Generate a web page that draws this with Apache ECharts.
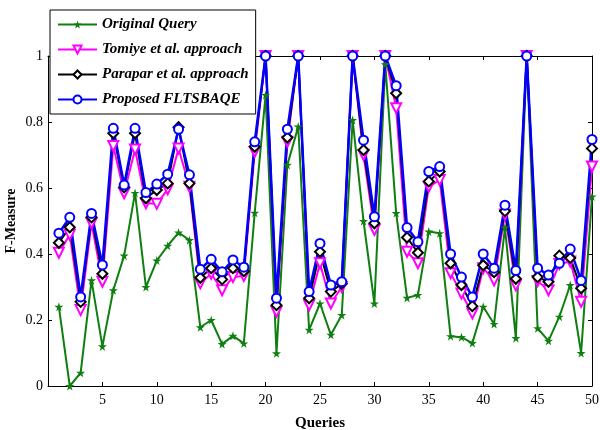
<!DOCTYPE html>
<html>
<head>
<meta charset="utf-8">
<script src="https://cdn.jsdelivr.net/npm/echarts@6/dist/echarts.min.js"></script>
<style>
  html, body { margin: 0; padding: 0; background: #fff; }
  #chart { width: 600px; height: 430px; }
</style>
</head>
<body>
<div id="chart"></div>
<script>
const queries = [1, 2, 3, 4, 5, 6, 7, 8, 9, 10, 11, 12, 13, 14, 15, 16, 17, 18, 19, 20,
  21, 22, 23, 24, 25, 26, 27, 28, 29, 30, 31, 32, 33, 34, 35, 36, 37, 38, 39, 40,
  41, 42, 43, 44, 45, 46, 47, 48, 49, 50];

const originalQuery = [0.24, 0.00, 0.04, 0.32, 0.12, 0.29, 0.395, 0.585, 0.30, 0.38,
  0.425, 0.465, 0.442, 0.178, 0.20, 0.127, 0.152, 0.129, 0.525, 0.882,
  0.099, 0.67, 0.786, 0.17, 0.25, 0.155, 0.215, 0.806, 0.50, 0.25,
  0.975, 0.524, 0.267, 0.276, 0.468, 0.463, 0.151, 0.148, 0.13, 0.24,
  0.188, 0.48, 0.145, 1.0, 0.175, 0.137, 0.21, 0.306, 0.10, 0.574];

const tomiye = [0.404, 0.458, 0.23, 0.493, 0.316, 0.727, 0.584, 0.717, 0.554, 0.552,
  0.596, 0.72, 0.604, 0.311, 0.34, 0.29, 0.33, 0.333, 0.71, 1.0,
  0.225, 0.74, 1.0, 0.245, 0.372, 0.25, 0.30, 1.0, 0.70, 0.473,
  1.0, 0.842, 0.407, 0.372, 0.604, 0.624, 0.342, 0.28, 0.22, 0.357,
  0.32, 0.52, 0.305, 1.0, 0.318, 0.29, 0.37, 0.377, 0.255, 0.665];

const parapar = [0.434, 0.481, 0.255, 0.511, 0.34, 0.766, 0.602, 0.766, 0.569, 0.594,
  0.614, 0.784, 0.614, 0.328, 0.357, 0.323, 0.357, 0.348, 0.725, 1.0,
  0.245, 0.753, 1.0, 0.266, 0.407, 0.286, 0.31, 1.0, 0.715, 0.493,
  1.0, 0.887, 0.45, 0.404, 0.62, 0.65, 0.372, 0.306, 0.242, 0.366,
  0.345, 0.53, 0.325, 1.0, 0.33, 0.316, 0.395, 0.388, 0.296, 0.72];

const proposed = [0.463, 0.511, 0.27, 0.523, 0.367, 0.781, 0.609, 0.781, 0.586, 0.612,
  0.642, 0.778, 0.64, 0.354, 0.384, 0.346, 0.382, 0.36, 0.74, 1.0,
  0.266, 0.778, 1.0, 0.286, 0.432, 0.306, 0.316, 1.0, 0.745, 0.513,
  1.0, 0.91, 0.48, 0.437, 0.65, 0.665, 0.40, 0.33, 0.27, 0.40,
  0.357, 0.548, 0.35, 1.0, 0.357, 0.336, 0.372, 0.415, 0.32, 0.747];

const seriesNames = ['Original Query', 'Tomiye et al. approach', 'Parapar et al. approach', 'Proposed FLTSBAQE'];

const star = 'path://M50,0 L61,35 L98,35 L68,57 L79,91 L50,70 L21,91 L32,57 L2,35 L39,35 Z';
const serif = 'Liberation Serif';

const pairs = (vals) => queries.map((q, i) => [q, vals[i]]);

const chart = echarts.init(document.getElementById('chart'));

// box axes (top/right) only carry inward ticks, like the matlab frame
const frameAxis = {
  axisLine: { show: true, onZero: false, lineStyle: { color: '#000', width: 1 } },
  axisTick: { show: true, inside: true, length: 4, lineStyle: { color: '#000' } },
  axisLabel: { show: false },
  splitLine: { show: false }
};

chart.setOption({
  animation: false,
  backgroundColor: '#fff',
  grid: { left: 48, right: 8, top: 56, bottom: 44, outerBoundsMode: 'none' },
  legend: {
    orient: 'vertical',
    left: 50,
    top: 10,
    width: 205,
    padding: [7, 7, 7, 7],
    itemGap: 10,
    itemWidth: 39,
    itemHeight: 10,
    borderColor: '#000',
    borderWidth: 1,
    backgroundColor: '#fff',
    data: seriesNames,
    textStyle: {
      fontFamily: serif,
      fontStyle: 'italic',
      fontWeight: 'bold',
      fontSize: 15,
      color: '#000'
    }
  },
  xAxis: [
    {
      type: 'value',
      min: 0,
      max: 50,
      interval: 5,
      name: 'Queries',
      nameLocation: 'middle',
      nameGap: 30,
      nameTextStyle: { fontFamily: serif, fontWeight: 'bold', fontSize: 15, color: '#000' },
      axisLine: { show: true, onZero: false, lineStyle: { color: '#000' } },
      axisTick: { show: true, inside: true, length: 4, lineStyle: { color: '#000' } },
      axisLabel: { showMinLabel: false, fontFamily: serif, fontSize: 14, color: '#000', margin: 7 },
      splitLine: { show: false }
    },
    Object.assign({ type: 'value', position: 'top', min: 0, max: 50, interval: 5 }, frameAxis)
  ],
  yAxis: [
    {
      type: 'value',
      min: 0,
      max: 1,
      interval: 0.2,
      name: 'F-Measure',
      nameLocation: 'middle',
      nameGap: 30,
      nameMoveOverlap: false,
      nameTextStyle: { fontFamily: serif, fontWeight: 'bold', fontSize: 14, color: '#000' },
      axisLine: { show: true, onZero: false, lineStyle: { color: '#000' } },
      axisTick: { show: true, inside: true, length: 4, lineStyle: { color: '#000' } },
      axisLabel: { fontFamily: serif, fontSize: 14, color: '#000', margin: 5 },
      splitLine: { show: false }
    },
    Object.assign({ type: 'value', position: 'right', min: 0, max: 1, interval: 0.2 }, frameAxis)
  ],
  series: [
    {
      name: seriesNames[0],
      type: 'line',
      data: pairs(originalQuery),
      symbol: star,
      symbolSize: 9,
      itemStyle: { color: '#0f7f0f' },
      lineStyle: { width: 2, color: '#0f7f0f' }
    },
    {
      name: seriesNames[1],
      type: 'line',
      data: pairs(tomiye),
      symbol: 'emptyTriangle',
      symbolRotate: 180,
      symbolSize: 10,
      itemStyle: { color: '#ff00ff', borderWidth: 1.5 },
      lineStyle: { width: 2, color: '#ff00ff' }
    },
    {
      name: seriesNames[2],
      type: 'line',
      data: pairs(parapar),
      symbol: 'emptyDiamond',
      symbolSize: 10,
      itemStyle: { color: '#000', borderWidth: 1.5 },
      lineStyle: { width: 2, color: '#000' }
    },
    {
      name: seriesNames[3],
      type: 'line',
      data: pairs(proposed),
      symbol: 'emptyCircle',
      symbolSize: 9,
      itemStyle: { color: '#0000ff', borderWidth: 1.5 },
      lineStyle: { width: 2.5, color: '#0000ff' }
    }
  ]
});
</script>
</body>
</html>
